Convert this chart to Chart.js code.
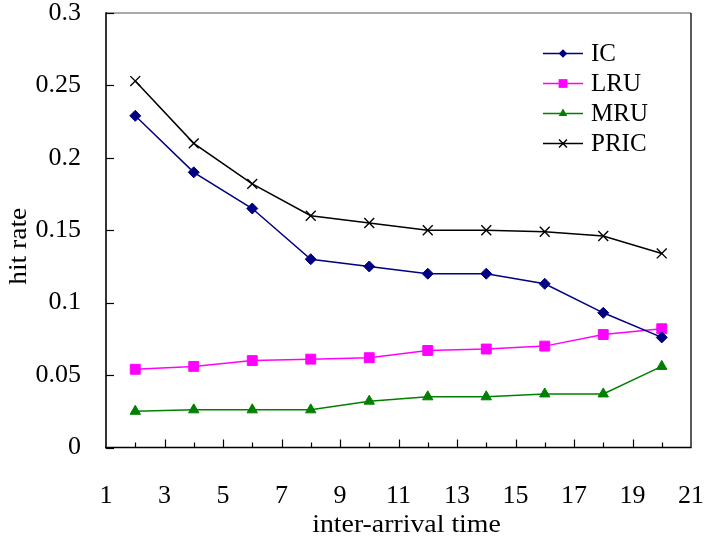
<!DOCTYPE html>
<html>
<head>
<meta charset="utf-8">
<script src="https://cdn.jsdelivr.net/npm/chart.js@4.4.1/dist/chart.umd.min.js"></script>
<style>
  html, body { margin: 0; padding: 0; background: #ffffff; }
  canvas { display: block; }
</style>
</head>
<body>
<canvas id="chart" width="706" height="541"></canvas>
<script>
// Hit rate of each caching policy against the inter-arrival time
const interArrival = [2, 4, 6, 8, 10, 12, 14, 16, 18, 20];
const icRate   = [0.229, 0.190, 0.165, 0.130, 0.125, 0.120, 0.120, 0.113, 0.093, 0.076];
const lruRate  = [0.054, 0.056, 0.060, 0.061, 0.062, 0.067, 0.068, 0.070, 0.078, 0.082];
const mruRate  = [0.025, 0.026, 0.026, 0.026, 0.032, 0.035, 0.035, 0.037, 0.037, 0.056];
const pricRate = [0.253, 0.210, 0.182, 0.160, 0.155, 0.150, 0.150, 0.149, 0.146, 0.134];
const seriesNames = ['IC', 'LRU', 'MRU', 'PRIC'];
const xTickLabels = [1, 3, 5, 7, 9, 11, 13, 15, 17, 19, 21];
const yTickLabels = ['0', '0.05', '0.1', '0.15', '0.2', '0.25', '0.3'];
const xTitle = 'inter-arrival time';
const yTitle = 'hit rate';

const FONT = '"Liberation Serif", "Times New Roman", serif';

const styles = [
  { color: '#000080', pointStyle: 'rectRot', radius: 5.5, legendRadius: 4.3 },
  { color: '#ff00ff', pointStyle: 'rect', radius: 7.0, legendRadius: 6.2 },
  { color: '#008000', pointStyle: 'triangle', radius: 6.0, legendRadius: 5.0 },
  { color: '#000000', pointStyle: 'crossRot', radius: 7.0, legendRadius: 5.6 }
];

const seriesValues = [icRate, lruRate, mruRate, pricRate];

const datasets = seriesNames.map((name, i) => ({
  label: name,
  data: interArrival.map((x, k) => ({ x: x, y: seriesValues[i][k] })),
  borderColor: styles[i].color,
  backgroundColor: styles[i].color,
  borderWidth: 1.5,
  pointStyle: styles[i].pointStyle,
  pointRadius: styles[i].radius,
  pointHoverRadius: styles[i].radius,
  pointBorderWidth: i === 3 ? 1.4 : 1,
  pointBackgroundColor: styles[i].color,
  pointBorderColor: styles[i].color,
  tension: 0,
  fill: false
}));

function strokeLine(ctx, x1, y1, x2, y2) {
  ctx.beginPath();
  ctx.moveTo(x1, y1);
  ctx.lineTo(x2, y2);
  ctx.stroke();
}

function drawMarker(ctx, style, r, cx, cy) {
  ctx.save();
  ctx.fillStyle = style.color;
  ctx.strokeStyle = style.color;
  ctx.lineWidth = 1.4;
  ctx.beginPath();
  if (style.pointStyle === 'rectRot') {
    ctx.moveTo(cx, cy - r); ctx.lineTo(cx + r, cy); ctx.lineTo(cx, cy + r); ctx.lineTo(cx - r, cy);
    ctx.closePath(); ctx.fill();
  } else if (style.pointStyle === 'rect') {
    const s = r * Math.SQRT1_2;
    ctx.rect(cx - s, cy - s, 2 * s, 2 * s); ctx.fill();
  } else if (style.pointStyle === 'triangle') {
    const a = 2 * Math.PI / 3;
    for (let k = 0; k < 3; k++) {
      const t = k * a;
      const px = cx + Math.sin(t) * r, py = cy - Math.cos(t) * r;
      if (k === 0) ctx.moveTo(px, py); else ctx.lineTo(px, py);
    }
    ctx.closePath(); ctx.fill();
  } else {
    const s = r * Math.SQRT1_2;
    ctx.moveTo(cx - s, cy - s); ctx.lineTo(cx + s, cy + s);
    ctx.moveTo(cx + s, cy - s); ctx.lineTo(cx - s, cy + s);
    ctx.stroke();
  }
  ctx.restore();
}

const framePlugin = {
  id: 'plotFrame',
  beforeDatasetsDraw(chart) {
    const { ctx, chartArea: a, scales } = chart;
    const x = scales.x, y = scales.y;
    ctx.save();
    ctx.lineCap = 'butt';
    // top and right edges of the plot area
    ctx.strokeStyle = '#8c8c8c';
    ctx.lineWidth = 1.5;
    strokeLine(ctx, a.left, a.top, a.right, a.top);
    ctx.strokeStyle = '#000000';
    ctx.lineWidth = 1.3;
    strokeLine(ctx, a.right, a.top, a.right, a.bottom);
    // axis lines
    ctx.lineWidth = 1.6;
    strokeLine(ctx, a.left, a.top - 0.75, a.left, a.bottom + 0.8);
    strokeLine(ctx, a.left - 0.8, a.bottom, a.right + 0.6, a.bottom);
    // inward tick marks
    ctx.lineWidth = 1.2;
    y.ticks.forEach(t => {
      const py = Math.round(y.getPixelForValue(t.value)) + 0.5;
      strokeLine(ctx, a.left, py, a.left + 8, py);
    });
    x.ticks.forEach(t => {
      const v = t.value;
      if (v <= x.min || v >= x.max) return;
      const px = Math.round(x.getPixelForValue(v)) + 0.5;
      const len = xTickLabels.includes(v) ? 8 : 5;
      strokeLine(ctx, px, a.bottom, px, a.bottom - len);
    });
    ctx.restore();
  },
  afterDraw(chart) {
    const ctx = chart.ctx;
    const a = chart.chartArea;

    // axis titles
    ctx.save();
    ctx.fillStyle = '#000000';
    ctx.textAlign = 'center';
    ctx.textBaseline = 'alphabetic';
    ctx.font = '26px ' + FONT;
    ctx.save();
    ctx.translate((a.left + a.right) / 2 + 8, 532);
    ctx.scale(1.07, 1);
    ctx.fillText(xTitle, 0, 0);
    ctx.restore();
    ctx.font = '25px ' + FONT;
    ctx.save();
    ctx.translate(26, (a.top + a.bottom) / 2 + 16);
    ctx.rotate(-Math.PI / 2);
    ctx.scale(1.1, 1);
    ctx.fillText(yTitle, 0, 0);
    ctx.restore();
    ctx.restore();

    // legend block in the upper right of the plot
    const lineX1 = 543, lineX2 = 583, markX = 563, textX = 591;
    const rowY0 = 53.5, rowStep = 30;
    ctx.save();
    ctx.font = '25px ' + FONT;
    ctx.textBaseline = 'middle';
    ctx.textAlign = 'left';
    chart.data.datasets.forEach((ds, i) => {
      const cy = rowY0 + i * rowStep;
      ctx.strokeStyle = ds.borderColor;
      ctx.lineWidth = 1.5;
      strokeLine(ctx, lineX1, cy, lineX2, cy);
      drawMarker(ctx, styles[i], styles[i].legendRadius, markX, cy);
      ctx.fillStyle = '#000000';
      ctx.fillText(ds.label, textX, cy + 1);
    });
    ctx.restore();
  }
};

new Chart(document.getElementById('chart'), {
  type: 'line',
  data: { datasets: datasets },
  options: {
    responsive: false,
    animation: false,
    events: [],
    layout: {
      autoPadding: false,
      padding: { left: 0, top: 13, right: 15, bottom: 0 }
    },
    plugins: {
      legend: { display: false },
      tooltip: { enabled: false },
      title: { display: false }
    },
    scales: {
      x: {
        type: 'linear',
        min: 1,
        max: 21,
        offset: false,
        afterFit(scale) {
          scale.height = 93.5;
          scale.paddingLeft = 0;
          scale.paddingRight = 0;
        },
        grid: { display: true, drawOnChartArea: false, drawTicks: false },
        border: { display: false },
        ticks: {
          stepSize: 1,
          autoSkip: false,
          maxRotation: 0,
          padding: 33,
          color: '#000000',
          font: { family: FONT, size: 26 },
          callback: (v) => xTickLabels.includes(v) ? String(v) : ''
        }
      },
      y: {
        min: 0,
        max: 0.3,
        afterFit(scale) {
          scale.width = 106;
          scale.paddingTop = 0;
          scale.paddingBottom = 0;
        },
        grid: { display: true, drawOnChartArea: false, drawTicks: false },
        border: { display: false },
        ticks: {
          stepSize: 0.05,
          padding: 25,
          color: '#000000',
          font: { family: FONT, size: 26 },
          callback: (v) => yTickLabels[Math.round(v / 0.05)]
        }
      }
    }
  },
  plugins: [framePlugin]
});
</script>
</body>
</html>
